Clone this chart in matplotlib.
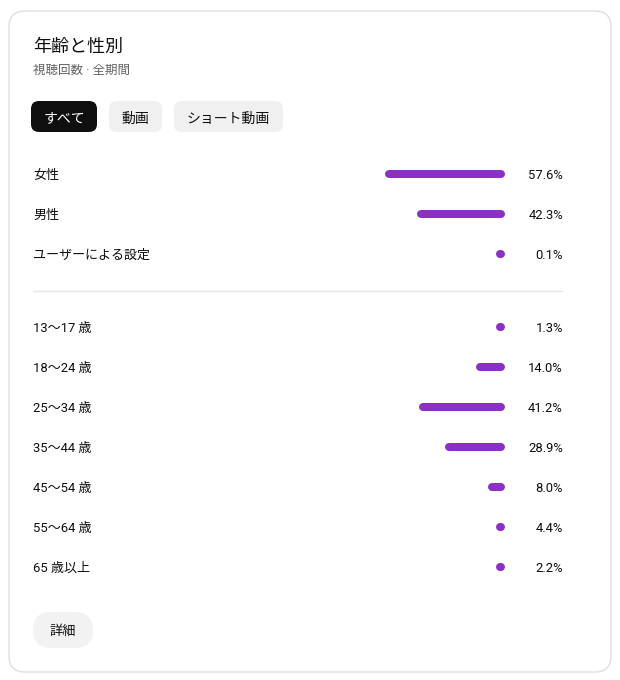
import matplotlib.pyplot as plt
from matplotlib.patches import FancyBboxPatch
from matplotlib import transforms

# text / data
title = '年齢と性別'
subtitle = '視聴回数 · 全期間'
tabs = ['すべて', '動画', 'ショート動画']
gender_labels = ['女性', '男性', 'ユーザーによる設定']
gender_values = [57.6, 42.3, 0.1]
age_labels = ['13〜17 歳', '18〜24 歳', '25〜34 歳', '35〜44 歳', '45〜54 歳', '55〜64 歳', '65 歳以上']
age_values = [1.3, 14.0, 41.2, 28.9, 8.0, 4.4, 2.2]
more_label = '詳細'

plt.rcParams['font.family'] = ['Roboto', 'Noto Sans CJK JP', 'DejaVu Sans']

W, H = 620, 680
fig = plt.figure(figsize=(W / 100, H / 100), dpi=100)
fig.patch.set_facecolor('white')

# background axes in pixel units for the card and buttons
bg = fig.add_axes([0, 0, 1, 1])
bg.set_xlim(0, W)
bg.set_ylim(H, 0)
bg.axis('off')

bg.add_patch(FancyBboxPatch((9, 11), 602, 661, boxstyle='round,pad=0,rounding_size=16',
                            facecolor='white', edgecolor='#dedede', lw=1))
bg.text(33, 45, title, fontsize=13, color='#0f0f0f', va='center_baseline', ha='left')
bg.text(33, 69, subtitle, fontsize=9, color='#606060', va='center_baseline', ha='left')

# tab buttons
tab_x = [31, 109, 174]
tab_w = [66, 53, 109]
for i, (lab, x, w) in enumerate(zip(tabs, tab_x, tab_w)):
    fc = '#0f0f0f' if i == 0 else '#f0f0f0'
    tc = 'white' if i == 0 else '#0f0f0f'
    bg.add_patch(FancyBboxPatch((x, 101), w, 31, boxstyle='round,pad=0,rounding_size=8',
                                facecolor=fc, edgecolor='none'))
    bg.text(x + w / 2, 117, lab, fontsize=10, color=tc, ha='center', va='center_baseline')

# divider
bg.hlines(291, 33, 563, color='#e5e5e5', lw=1)

# "more" button
bg.add_patch(FancyBboxPatch((33, 612), 60, 36, boxstyle='round,pad=0,rounding_size=18',
                            facecolor='#f2f2f2', edgecolor='none'))
bg.text(63, 630, more_label, fontsize=9.5, color='#0f0f0f', ha='center', va='center_baseline')

# bars axes: right end of bars at x ~505px, 2.08 px per percent
px_per_pct = 2.08
bar_px = 8
ax_left, ax_right = 301, 501
ax_top, ax_bottom = 154, 587
ax = fig.add_axes([ax_left / W, 1 - ax_bottom / H, (ax_right - ax_left) / W, (ax_bottom - ax_top) / H])
ax.set_xlim((ax_right - ax_left) / px_per_pct, 0)
gap = 0.825
ys = list(range(len(gender_labels))) + [len(gender_labels) + gap + i for i in range(len(age_labels))]
ax.set_ylim(ys[-1] + 0.5, -0.5)
ax.axis('off')
ax.patch.set_alpha(0)

labels = gender_labels + age_labels
values = gender_values + age_values
cap = bar_px / px_per_pct
for y, v in zip(ys, values):
    ax.plot([0, max(v - cap, 0.5)], [y, y], color='#8c2fc4', lw=bar_px * 0.72,
            solid_capstyle='round', clip_on=False)

tr = transforms.blended_transform_factory(fig.transFigure, ax.transData)
for y, lab, v in zip(ys, labels, values):
    ax.text(33 / W, y, lab, transform=tr, fontsize=9.4, color='#0f0f0f', ha='left',
            va='center_baseline')
    ax.text(563 / W, y, f'{v:.1f}%', transform=tr, fontsize=9.4, color='#0f0f0f',
            ha='right', va='center_baseline')

fig.savefig('out.png', dpi=100)
